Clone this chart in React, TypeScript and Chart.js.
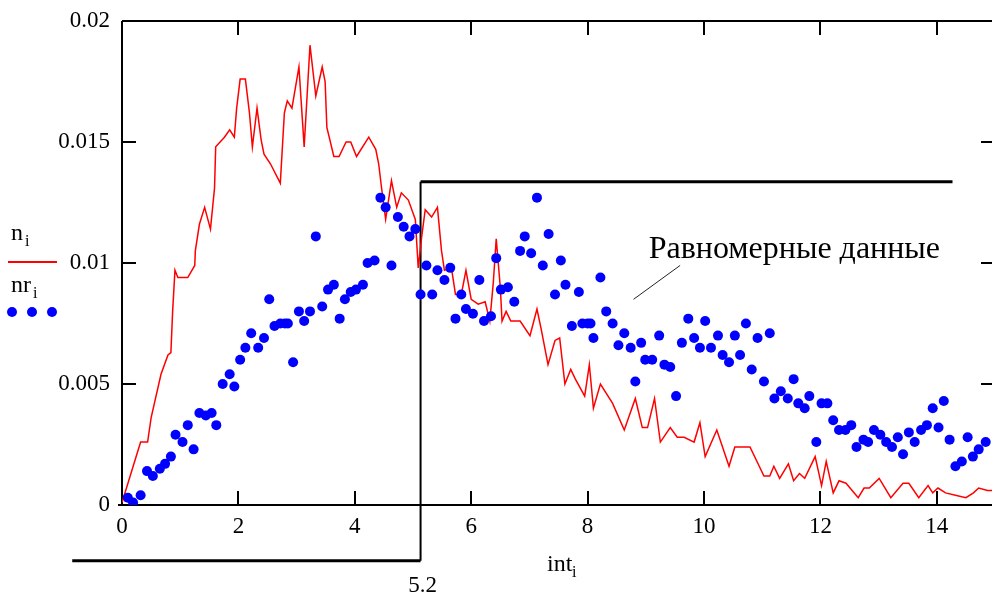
import React, { useEffect, useRef } from "react";
import { Chart, registerables } from "chart.js";

Chart.register(...registerables);

// ---- data: red trace n_i (vertices) ----
const intR = [
  0, 0.32, 0.44, 0.5, 0.67, 0.79, 0.84, 0.87, 0.91, 0.96, 1.13, 1.25, 1.26, 1.33, 1.42, 1.52, 1.59, 1.61,
  1.76, 1.85, 1.93, 1.97, 2.03, 2.12, 2.19, 2.24, 2.32, 2.39, 2.44, 2.55, 2.72, 2.79, 2.84, 2.92, 3.04,
  3.13, 3.18, 3.23, 3.33, 3.44, 3.49, 3.52, 3.64, 3.73, 3.85, 3.93, 4.03, 4.24, 4.36, 4.41, 4.46, 4.53,
  4.63, 4.72, 4.8, 4.92, 5.04, 5.09, 5.15, 5.21, 5.32, 5.42, 5.49, 5.54, 5.66, 5.73, 5.83, 5.91, 6.0,
  6.12, 6.24, 6.32, 6.38, 6.43, 6.5, 6.53, 6.6, 6.68, 6.84, 7.01, 7.13, 7.2, 7.32, 7.44, 7.52, 7.61,
  7.71, 7.79, 7.95, 8.03, 8.1, 8.22, 8.43, 8.63, 8.82, 8.94, 9.03, 9.15, 9.25, 9.42, 9.54, 9.66, 9.83,
  9.93, 10.02, 10.22, 10.43, 10.53, 10.65, 10.79, 11.03, 11.13, 11.2, 11.3, 11.45, 11.54, 11.64, 11.73,
  11.91, 12.02, 12.1, 12.22, 12.32, 12.44, 12.65, 12.75, 12.84, 13.01, 13.21, 13.42, 13.52, 13.69,
  13.85, 13.93, 14.02, 14.15, 14.32, 14.5, 14.63, 14.72, 14.87, 15.0,
];
const nR = [
  0.0001, 0.0026, 0.0026, 0.0036, 0.0054, 0.0062, 0.0063, 0.008, 0.0097, 0.0094, 0.0094, 0.0099, 0.0105,
  0.0116, 0.0123, 0.0114, 0.0131, 0.0148, 0.0152, 0.0155, 0.0152, 0.0164, 0.0176, 0.0176, 0.0162, 0.0148,
  0.0164, 0.0151, 0.0145, 0.0141, 0.0133, 0.0162, 0.0167, 0.0164, 0.0181, 0.0148, 0.0169, 0.019, 0.0169,
  0.0181, 0.0175, 0.0156, 0.0144, 0.0144, 0.015, 0.015, 0.0144, 0.0152, 0.0147, 0.0141, 0.0131, 0.0118,
  0.0134, 0.0123, 0.0129, 0.0126, 0.0118, 0.0098, 0.0111, 0.0122, 0.0119, 0.0123, 0.0105, 0.0097, 0.0098,
  0.0087, 0.0087, 0.0097, 0.0085, 0.0083, 0.0084, 0.0076, 0.0092, 0.011, 0.009, 0.0076, 0.008, 0.0076,
  0.0076, 0.007, 0.0081, 0.0073, 0.0058, 0.0068, 0.0069, 0.005, 0.0056, 0.0052, 0.0045, 0.0058, 0.004,
  0.005, 0.0042, 0.0031, 0.0044, 0.0032, 0.0032, 0.0044, 0.0026, 0.0032, 0.0028, 0.0028, 0.0026, 0.0034,
  0.002, 0.0031, 0.0016, 0.0024, 0.0024, 0.0024, 0.0012, 0.0012, 0.0016, 0.0011, 0.0017, 0.001, 0.0013,
  0.0011, 0.002, 0.0008, 0.0018, 0.0005, 0.001, 0.0009, 0.0003, 0.0007, 0.0007, 0.0011, 0.0003, 0.0009,
  0.0009, 0.0003, 0.0008, 0.0005, 0.0007, 0.0005, 0.0004, 0.0003, 0.0005, 0.0007, 0.0006, 0.0006,
];

// ---- data: blue points nr_i ----
const intB = [
  0.1, 0.19, 0.32, 0.43, 0.53, 0.65, 0.74, 0.84, 0.92, 1.04, 1.13, 1.23, 1.33, 1.44, 1.54, 1.62, 1.73,
  1.85, 1.93, 2.03, 2.12, 2.22, 2.34, 2.44, 2.53, 2.62, 2.72, 2.8, 2.85, 2.94, 3.04, 3.13, 3.23, 3.33,
  3.44, 3.54, 3.64, 3.74, 3.83, 3.93, 4.02, 4.14, 4.22, 4.34, 4.44, 4.53, 4.63, 4.74, 4.84, 4.94, 5.04,
  5.13, 5.23, 5.33, 5.42, 5.54, 5.64, 5.73, 5.83, 5.91, 6.03, 6.14, 6.22, 6.34, 6.43, 6.51, 6.63, 6.74,
  6.84, 6.92, 7.03, 7.13, 7.23, 7.33, 7.44, 7.54, 7.62, 7.73, 7.85, 7.91, 8.0, 8.05, 8.1, 8.22, 8.32,
  8.43, 8.53, 8.63, 8.74, 8.82, 8.92, 8.99, 9.11, 9.23, 9.32, 9.42, 9.52, 9.62, 9.73, 9.83, 9.93, 10.02,
  10.12, 10.24, 10.32, 10.43, 10.53, 10.62, 10.72, 10.82, 10.92, 11.03, 11.13, 11.21, 11.32, 11.44,
  11.54, 11.62, 11.73, 11.81, 11.93, 12.02, 12.12, 12.22, 12.32, 12.43, 12.53, 12.62, 12.74, 12.82,
  12.92, 13.03, 13.13, 13.23, 13.33, 13.42, 13.52, 13.62, 13.73, 13.83, 13.93, 14.03, 14.12, 14.22,
  14.32, 14.43, 14.53, 14.62, 14.72, 14.84,
];
const nB = [
  0.0003, 0.0001, 0.0004, 0.0014, 0.0012, 0.0015, 0.0017, 0.002, 0.0029, 0.0026, 0.0033, 0.0023, 0.0038,
  0.0037, 0.0038, 0.0033, 0.005, 0.0054, 0.0049, 0.006, 0.0065, 0.0071, 0.0065, 0.0069, 0.0085, 0.0074,
  0.0075, 0.0075, 0.0075, 0.0059, 0.008, 0.0076, 0.008, 0.0111, 0.0082, 0.0089, 0.0091, 0.0077, 0.0085,
  0.0088, 0.0089, 0.0091, 0.01, 0.0101, 0.0127, 0.0123, 0.0099, 0.0119, 0.0115, 0.0111, 0.0114, 0.0087,
  0.0099, 0.0087, 0.0097, 0.0093, 0.0098, 0.0077, 0.0087, 0.0081, 0.0079, 0.0093, 0.0076, 0.0078, 0.0102,
  0.0089, 0.009, 0.0084, 0.0105, 0.0111, 0.0104, 0.0127, 0.0099, 0.0112, 0.0087, 0.0101, 0.0091, 0.0074,
  0.0088, 0.0075, 0.0075, 0.0075, 0.0069, 0.0094, 0.008, 0.0075, 0.0066, 0.0071, 0.0065, 0.0051, 0.0067,
  0.006, 0.006, 0.007, 0.0058, 0.0057, 0.0045, 0.0067, 0.0077, 0.0069, 0.0065, 0.0076, 0.0065, 0.007,
  0.0062, 0.0059, 0.007, 0.0062, 0.0075, 0.0056, 0.0069, 0.0051, 0.0071, 0.0044, 0.0047, 0.0044, 0.0052,
  0.0042, 0.004, 0.0045, 0.0026, 0.0042, 0.0042, 0.0035, 0.0031, 0.0031, 0.0033, 0.0024, 0.0027, 0.0026,
  0.0031, 0.0029, 0.0026, 0.0024, 0.0028, 0.0021, 0.003, 0.0026, 0.0031, 0.0033, 0.004, 0.0032, 0.0043,
  0.0027, 0.0016, 0.0018, 0.0028, 0.002, 0.0023, 0.0026,
];

// ---- axes ----
const xTicks = [0, 2, 4, 6, 8, 10, 12, 14];
const yTicks = [0, 0.005, 0.01, 0.015, 0.02];
const xMin = 0;
const xMax = 15;
const yMin = 0;
const yMax = 0.02;

// ---- marker (step line) ----
const markerX = 5.13;
const markerLabel = "5.2";
const markerLeft = -0.855;
const markerRight = 14.27;
const markerLow = -0.0023;
const markerHigh = 0.01336;

// ---- annotation ----
const noteText = "Равномерные данные";
const noteAt = [9.05, 0.0102];
const notePointerFrom = [8.79, 0.0085];
const notePointerTo = [9.59, 0.0099];

const FONT = "'Liberation Serif', 'Times New Roman', serif";

const decorPlugin = {
  id: "decor",
  beforeDatasetsDraw(chart: any) {
    const { ctx, chartArea } = chart;
    const xs = chart.scales.x;
    const ys = chart.scales.y;
    const { left, right, top, bottom } = chartArea;
    ctx.save();
    ctx.strokeStyle = "#000";
    ctx.lineWidth = 2;
    ctx.beginPath();
    ctx.moveTo(left, top);
    ctx.lineTo(left, bottom + 1);
    ctx.moveTo(left - 4, bottom);
    ctx.lineTo(right, bottom);
    ctx.moveTo(left, top);
    ctx.lineTo(right, top);
    ctx.moveTo(right, top);
    ctx.lineTo(right, bottom);
    const tl = 14;
    xTicks.forEach((v) => {
      if (v === xMin) return;
      const px = Math.round(xs.getPixelForValue(v));
      ctx.moveTo(px, bottom);
      ctx.lineTo(px, bottom - tl);
      ctx.moveTo(px, top);
      ctx.lineTo(px, top + tl);
    });
    yTicks.forEach((v) => {
      if (v === yMin) return;
      const py = Math.round(ys.getPixelForValue(v));
      ctx.moveTo(left, py);
      ctx.lineTo(left + tl, py);
      ctx.moveTo(right, py);
      ctx.lineTo(right - tl, py);
    });
    ctx.stroke();
    ctx.restore();
  },
  afterDraw(chart: any) {
    const { ctx } = chart;
    const xs = chart.scales.x;
    const ys = chart.scales.y;
    ctx.save();
    ctx.fillStyle = "#000";
    ctx.textBaseline = "alphabetic";
    ctx.textAlign = "left";

    // legend
    ctx.font = `24px ${FONT}`;
    ctx.fillText("n", 11, 240);
    ctx.font = `16px ${FONT}`;
    ctx.fillText("i", 25, 246);
    ctx.strokeStyle = "#ff0000";
    ctx.lineWidth = 2;
    ctx.beginPath();
    ctx.moveTo(8, 262);
    ctx.lineTo(57, 262);
    ctx.stroke();
    ctx.font = `24px ${FONT}`;
    ctx.fillText("nr", 11, 292);
    ctx.font = `16px ${FONT}`;
    ctx.fillText("i", 33, 298);
    ctx.fillStyle = "#0000ff";
    [12, 32, 52].forEach((cx) => {
      ctx.beginPath();
      ctx.arc(cx, 312, 5, 0, Math.PI * 2);
      ctx.fill();
    });

    // x axis title
    ctx.fillStyle = "#000";
    ctx.font = `24px ${FONT}`;
    ctx.fillText("int", 547, 571);
    ctx.font = `16px ${FONT}`;
    ctx.fillText("i", 572, 577);

    // marker label
    ctx.font = `23px ${FONT}`;
    ctx.textAlign = "center";
    ctx.fillText(markerLabel, xs.getPixelForValue(markerX) + 2, ys.getPixelForValue(markerLow) + 31);

    // annotation
    ctx.textAlign = "left";
    ctx.font = `32px ${FONT}`;
    ctx.fillText(noteText, xs.getPixelForValue(noteAt[0]), ys.getPixelForValue(noteAt[1]));
    ctx.strokeStyle = "#222";
    ctx.lineWidth = 1;
    ctx.beginPath();
    ctx.moveTo(xs.getPixelForValue(notePointerFrom[0]), ys.getPixelForValue(notePointerFrom[1]));
    ctx.lineTo(xs.getPixelForValue(notePointerTo[0]), ys.getPixelForValue(notePointerTo[1]));
    ctx.stroke();
    ctx.restore();
  },
};

export default function App() {
  const ref = useRef<HTMLCanvasElement | null>(null);
  useEffect(() => {
    document.body.style.margin = "0";
    const canvas = ref.current!;
    const chart = new Chart(canvas, {
      type: "line",
      data: {
        datasets: [
          {
            label: "nr",
            data: intB.map((x, i) => ({ x, y: nB[i] })),
            showLine: false,
            pointRadius: 5,
            pointBorderWidth: 0,
            pointBackgroundColor: "#0000ff",
            pointBorderColor: "#0000ff",
            borderColor: "#0000ff",
            order: 0,
          },
          {
            label: "n",
            data: intR.map((x, i) => ({ x, y: nR[i] })),
            borderColor: "#ff0000",
            borderWidth: 1.5,
            pointRadius: 0,
            tension: 0,
            order: 1,
          },
          {
            label: "markerBottom",
            data: [
              { x: markerLeft, y: markerLow },
              { x: markerX, y: markerLow },
            ],
            borderColor: "#000",
            borderWidth: 3,
            pointRadius: 0,
            clip: false as any,
            order: 2,
          },
          {
            label: "markerVertical",
            data: [
              { x: markerX, y: markerLow },
              { x: markerX, y: markerHigh },
            ],
            borderColor: "#000",
            borderWidth: 2,
            pointRadius: 0,
            clip: false as any,
            order: 2,
          },
          {
            label: "markerTop",
            data: [
              { x: markerX, y: markerHigh },
              { x: markerRight, y: markerHigh },
            ],
            borderColor: "#000",
            borderWidth: 3,
            pointRadius: 0,
            clip: false as any,
            order: 2,
          },
        ],
      },
      options: {
        animation: false,
        responsive: false,
        devicePixelRatio: 1,
        layout: { padding: { left: 0, top: 21, right: 0, bottom: 0 } },
        plugins: { legend: { display: false }, tooltip: { enabled: false } },
        scales: {
          x: {
            type: "linear",
            min: xMin,
            max: xMax,
            grid: { display: false, drawTicks: false },
            border: { display: false },
            afterFit: (s: any) => {
              s.height = 89;
              s.paddingLeft = 0;
              s.paddingRight = 0;
            },
            afterBuildTicks: (s: any) => {
              s.ticks = xTicks.map((v) => ({ value: v }));
            },
            ticks: {
              autoSkip: false,
              maxRotation: 0,
              padding: 8,
              color: "#000",
              font: { family: FONT, size: 23 },
              callback: (v: any) => String(v),
            },
          },
          y: {
            type: "linear",
            min: yMin,
            max: yMax,
            grid: { display: false, drawTicks: false },
            border: { display: false },
            afterFit: (s: any) => {
              s.width = 122;
              s.paddingTop = 0;
              s.paddingBottom = 0;
            },
            afterBuildTicks: (s: any) => {
              s.ticks = yTicks.map((v) => ({ value: v }));
            },
            ticks: {
              autoSkip: false,
              padding: 12,
              color: "#000",
              font: { family: FONT, size: 23 },
              callback: (v: any) => String(Number(Number(v).toFixed(4))),
            },
          },
        },
      },
      plugins: [decorPlugin],
    } as any);
    return () => chart.destroy();
  }, []);
  return (
    <div style={{ position: "fixed", left: 0, top: 0, width: 992, height: 594, overflow: "hidden", background: "#fff" }}>
      <canvas ref={ref} width={1000} height={594} style={{ display: "block", width: 1000, height: 594 }} />
    </div>
  );
}
